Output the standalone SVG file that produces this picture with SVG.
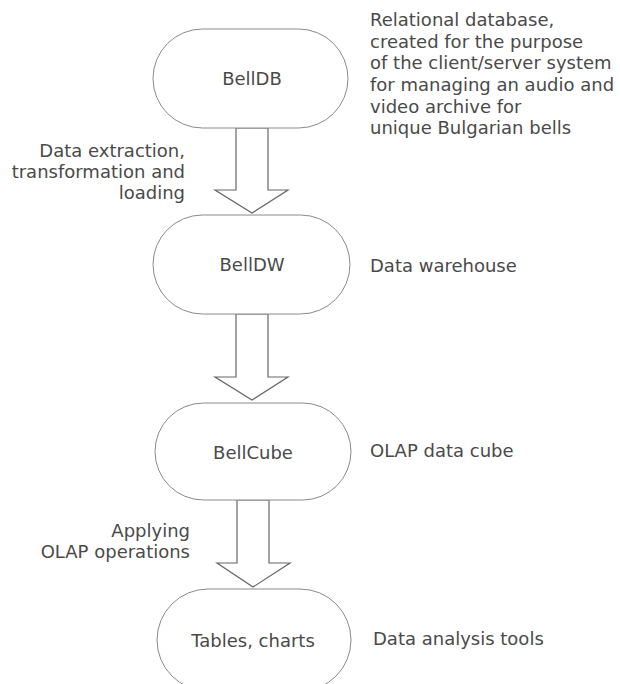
<svg xmlns="http://www.w3.org/2000/svg" width="620" height="684" viewBox="0 0 620 684">
  <style>
    .node { fill: #ffffff; stroke: #8a8a8a; stroke-width: 1; }
    .arrow { fill: #ffffff; stroke: #666666; stroke-width: 1.2; stroke-linejoin: miter; }
    text { font-family: "DejaVu Sans", Verdana, sans-serif; font-size: 18px; fill: #4a4a4a; }
    .c { text-anchor: middle; }
    .r { text-anchor: end; }
  </style>
  <rect width="620" height="684" fill="#ffffff"/>

  <!-- block arrows between the stages -->
  <g id="connectors">
    <polygon class="arrow" points="236,128 268,128 268,190 288,190 252,213 215,190 236,190"/>
    <polygon class="arrow" points="236,314 268,314 268,377 288,377 252,400 215,377 236,377"/>
    <polygon class="arrow" points="237,500 269,500 269,563 290,563 253,587 217,563 237,563"/>
  </g>

  <g id="belldb">
    <rect class="node" x="153" y="29" width="195" height="99" rx="49.5" ry="49.5"/>
    <text class="c" x="252" y="85">BellDB</text>
  </g>
  <g id="belldw">
    <rect class="node" x="153" y="215" width="197" height="99" rx="49.5" ry="49.5"/>
    <text class="c" x="252" y="271">BellDW</text>
  </g>
  <g id="bellcube">
    <rect class="node" x="155" y="403" width="196" height="97" rx="48.5" ry="48.5"/>
    <text class="c" x="253" y="459">BellCube</text>
  </g>
  <g id="tables">
    <rect class="node" x="157" y="589" width="194" height="102" rx="51" ry="51"/>
    <text class="c" x="253" y="647">Tables, charts</text>
  </g>

  <!-- descriptions on the right -->
  <g id="desc-db">
    <text x="370" y="26">Relational database,</text>
    <text x="370" y="48">created for the purpose</text>
    <text x="370" y="69">of the client/server system</text>
    <text x="370" y="91">for managing an audio and</text>
    <text x="370" y="113">video archive for</text>
    <text x="370" y="134">unique Bulgarian bells</text>
  </g>
  <g id="desc-dw"><text x="370" y="272">Data warehouse</text></g>
  <g id="desc-cube"><text x="370" y="457">OLAP data cube</text></g>
  <g id="desc-tools"><text x="373" y="645">Data analysis tools</text></g>

  <!-- process labels on the left -->
  <g id="label-etl">
    <text class="r" x="185" y="157">Data extraction,</text>
    <text class="r" x="185" y="178">transformation and</text>
    <text class="r" x="185" y="199">loading</text>
  </g>
  <g id="label-olap">
    <text class="r" x="190" y="537">Applying</text>
    <text class="r" x="190" y="558">OLAP operations</text>
  </g>
</svg>
